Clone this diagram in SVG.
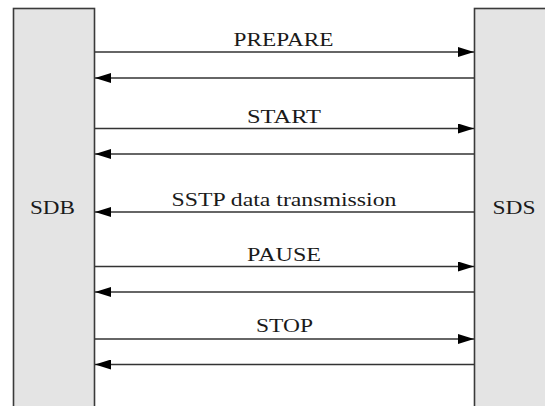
<svg xmlns="http://www.w3.org/2000/svg" width="545" height="406" viewBox="0 0 545 406">
  <style>
    .box { fill: #e4e4e4; stroke: #3a3a3a; stroke-width: 1.6; }
    .msg { stroke: #333; stroke-width: 1.5; fill: none; }
    .lbl { font-family: "Liberation Serif", "Times New Roman", serif; font-size: 19px; fill: #1a1a1a; text-anchor: middle; }
  </style>
  <defs>
    <marker id="arrow" viewBox="0 0 16 10" refX="16" refY="5" markerWidth="16" markerHeight="10" markerUnits="userSpaceOnUse" orient="auto">
      <path d="M0,0 L16,5 L0,10 Z" fill="#000"/>
    </marker>
  </defs>

  <rect width="545" height="406" fill="#fff"/>

  <g id="sdb">
    <rect class="box" x="13.5" y="8.5" width="81" height="410"/>
    <text class="lbl" x="52.5" y="214" textLength="45" lengthAdjust="spacingAndGlyphs">SDB</text>
  </g>

  <g id="sds">
    <rect class="box" x="474.5" y="8.5" width="90" height="410"/>
    <text class="lbl" x="514" y="214" textLength="43" lengthAdjust="spacingAndGlyphs">SDS</text>
  </g>

  <g id="connectors">
    <line class="msg" x1="95" y1="52" x2="474" y2="52" marker-end="url(#arrow)"/>
    <line class="msg" x1="474" y1="78" x2="95" y2="78" marker-end="url(#arrow)"/>
    <line class="msg" x1="95" y1="128.5" x2="474" y2="128.5" marker-end="url(#arrow)"/>
    <line class="msg" x1="474" y1="154" x2="95" y2="154" marker-end="url(#arrow)"/>
    <line class="msg" x1="474" y1="212" x2="95" y2="212" marker-end="url(#arrow)"/>
    <line class="msg" x1="95" y1="266.5" x2="474" y2="266.5" marker-end="url(#arrow)"/>
    <line class="msg" x1="474" y1="292" x2="95" y2="292" marker-end="url(#arrow)"/>
    <line class="msg" x1="95" y1="339" x2="474" y2="339" marker-end="url(#arrow)"/>
    <line class="msg" x1="474" y1="364.5" x2="95" y2="364.5" marker-end="url(#arrow)"/>

    <text class="lbl" x="283.5" y="46" textLength="100" lengthAdjust="spacingAndGlyphs">PREPARE</text>
    <text class="lbl" x="284" y="122.5" textLength="74" lengthAdjust="spacingAndGlyphs">START</text>
    <text class="lbl" x="284" y="206" textLength="225" lengthAdjust="spacingAndGlyphs">SSTP data transmission</text>
    <text class="lbl" x="284" y="260.5" textLength="74" lengthAdjust="spacingAndGlyphs">PAUSE</text>
    <text class="lbl" x="284.5" y="332" textLength="57" lengthAdjust="spacingAndGlyphs">STOP</text>
  </g>
</svg>
